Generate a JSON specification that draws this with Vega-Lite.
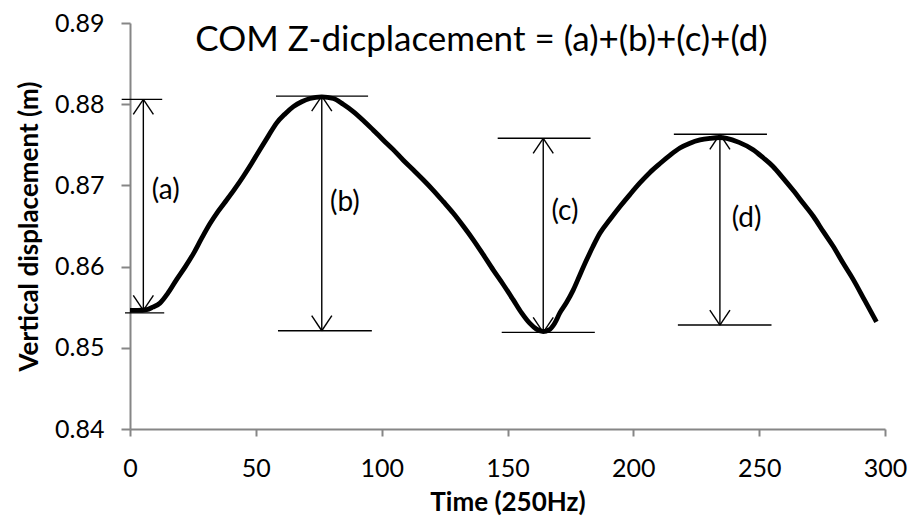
{
  "$schema": "https://vega.github.io/schema/vega-lite/v6.json",
  "width": 755,
  "height": 406,
  "autosize": "none",
  "padding": {"left": 130, "top": 23, "right": 30, "bottom": 101},
  "background": "white",
  "config": {"view": {"stroke": null}, "font": "Lato"},
  "title": {"text": "COM Z-dicplacement = (a)+(b)+(c)+(d)", "font": "Lato", "fontSize": 35, "fontWeight": "normal", "color": "black", "anchor": "middle", "dx": -26, "offset": -47},
  "datasets": {
    "curve": [
      {"t": 0, "z": 0.8546}, {"t": 3, "z": 0.8546}, {"t": 6.6, "z": 0.8547}, {"t": 9, "z": 0.855}, {"t": 11.9, "z": 0.8555},
      {"t": 15, "z": 0.8567}, {"t": 18.5, "z": 0.8584}, {"t": 22, "z": 0.86}, {"t": 25.2, "z": 0.8616}, {"t": 28.5, "z": 0.8635},
      {"t": 31.8, "z": 0.8653}, {"t": 35, "z": 0.8668}, {"t": 38.4, "z": 0.8682}, {"t": 41.7, "z": 0.8696}, {"t": 45, "z": 0.8711},
      {"t": 48.3, "z": 0.8727}, {"t": 51.6, "z": 0.8744}, {"t": 55, "z": 0.8761}, {"t": 58.3, "z": 0.8777}, {"t": 61.6, "z": 0.8788},
      {"t": 64.9, "z": 0.8797}, {"t": 68.2, "z": 0.8803}, {"t": 71.5, "z": 0.8807}, {"t": 76.2, "z": 0.8809}, {"t": 80.8, "z": 0.8807},
      {"t": 84.7, "z": 0.88}, {"t": 88.7, "z": 0.8791}, {"t": 92.7, "z": 0.878}, {"t": 96.7, "z": 0.8768}, {"t": 100.6, "z": 0.8756},
      {"t": 104.6, "z": 0.8744}, {"t": 108.6, "z": 0.8731}, {"t": 112.6, "z": 0.8719}, {"t": 116.5, "z": 0.8707}, {"t": 120.5, "z": 0.8694},
      {"t": 124.5, "z": 0.868}, {"t": 128.4, "z": 0.8666}, {"t": 132.4, "z": 0.865}, {"t": 136.4, "z": 0.8633}, {"t": 140.3, "z": 0.8615},
      {"t": 144.3, "z": 0.8596}, {"t": 148.3, "z": 0.8578}, {"t": 152.3, "z": 0.8559}, {"t": 155.6, "z": 0.8543}, {"t": 158.9, "z": 0.853},
      {"t": 161.5, "z": 0.8523}, {"t": 164.2, "z": 0.852}, {"t": 166.5, "z": 0.8522}, {"t": 168.7, "z": 0.853}, {"t": 170.8, "z": 0.8543},
      {"t": 173.5, "z": 0.8556}, {"t": 176.1, "z": 0.8571}, {"t": 178.8, "z": 0.859}, {"t": 181.4, "z": 0.8608}, {"t": 184, "z": 0.8625},
      {"t": 186.7, "z": 0.8641}, {"t": 190.7, "z": 0.8658}, {"t": 194.7, "z": 0.8674}, {"t": 198.7, "z": 0.8689}, {"t": 202.6, "z": 0.8703},
      {"t": 206.6, "z": 0.8716}, {"t": 210.6, "z": 0.8727}, {"t": 214.5, "z": 0.8737}, {"t": 218.5, "z": 0.8746}, {"t": 222.5, "z": 0.8752},
      {"t": 226.5, "z": 0.8756}, {"t": 230.5, "z": 0.8758}, {"t": 234.4, "z": 0.8759}, {"t": 237.1, "z": 0.8758}, {"t": 242, "z": 0.8753},
      {"t": 247.6, "z": 0.8744}, {"t": 251.6, "z": 0.8734}, {"t": 255.6, "z": 0.8723}, {"t": 259.5, "z": 0.8709}, {"t": 263.5, "z": 0.8694},
      {"t": 267.5, "z": 0.8678}, {"t": 271.5, "z": 0.8662}, {"t": 275.5, "z": 0.8643}, {"t": 279.4, "z": 0.8625}, {"t": 283.4, "z": 0.8604},
      {"t": 287.4, "z": 0.8584}, {"t": 292, "z": 0.8558}, {"t": 296.6, "z": 0.8532}
    ],
    "segs": [
      {"x1": 5.3, "y1": 0.8806, "x2": 5.3, "y2": 0.8546},
      {"x1": -3.3, "y1": 0.8806, "x2": 12.8, "y2": 0.8806},
      {"x1": -2.0, "y1": 0.8543, "x2": 13.6, "y2": 0.8543},
      {"x1": 1.3, "y1": 0.87875, "x2": 5.3, "y2": 0.8806},
      {"x1": 9.3, "y1": 0.87875, "x2": 5.3, "y2": 0.8806},
      {"x1": 1.3, "y1": 0.85645, "x2": 5.3, "y2": 0.8546},
      {"x1": 9.3, "y1": 0.85645, "x2": 5.3, "y2": 0.8546},
      {"x1": 76.2, "y1": 0.881, "x2": 76.2, "y2": 0.8521},
      {"x1": 58.0, "y1": 0.881, "x2": 94.6, "y2": 0.881},
      {"x1": 58.8, "y1": 0.8521, "x2": 96.1, "y2": 0.8521},
      {"x1": 72.2, "y1": 0.87915, "x2": 76.2, "y2": 0.881},
      {"x1": 80.2, "y1": 0.87915, "x2": 76.2, "y2": 0.881},
      {"x1": 72.2, "y1": 0.85395, "x2": 76.2, "y2": 0.8521},
      {"x1": 80.2, "y1": 0.85395, "x2": 76.2, "y2": 0.8521},
      {"x1": 164.2, "y1": 0.8758, "x2": 164.2, "y2": 0.8519},
      {"x1": 146.1, "y1": 0.8758, "x2": 183.0, "y2": 0.8758},
      {"x1": 147.7, "y1": 0.8519, "x2": 184.7, "y2": 0.8519},
      {"x1": 160.2, "y1": 0.87395, "x2": 164.2, "y2": 0.8758},
      {"x1": 168.2, "y1": 0.87395, "x2": 164.2, "y2": 0.8758},
      {"x1": 160.2, "y1": 0.85375, "x2": 164.2, "y2": 0.8519},
      {"x1": 168.2, "y1": 0.85375, "x2": 164.2, "y2": 0.8519},
      {"x1": 234.4, "y1": 0.8763, "x2": 234.4, "y2": 0.8528},
      {"x1": 216.1, "y1": 0.8763, "x2": 253.1, "y2": 0.8763},
      {"x1": 217.7, "y1": 0.8528, "x2": 254.9, "y2": 0.8528},
      {"x1": 230.4, "y1": 0.87445, "x2": 234.4, "y2": 0.8763},
      {"x1": 238.4, "y1": 0.87445, "x2": 234.4, "y2": 0.8763},
      {"x1": 230.4, "y1": 0.85465, "x2": 234.4, "y2": 0.8528},
      {"x1": 238.4, "y1": 0.85465, "x2": 234.4, "y2": 0.8528}
    ],
    "labels": [
      {"x": 14.2, "y": 0.86935, "label": "(a)"},
      {"x": 85.4, "y": 0.86783, "label": "(b)"},
      {"x": 172.8, "y": 0.86676, "label": "(c)"},
      {"x": 245.0, "y": 0.86586, "label": "(d)"}
    ]
  },
  "layer": [
    {
      "data": {"name": "segs"},
      "mark": {"type": "rule", "color": "black", "strokeWidth": 1.4},
      "encoding": {
        "x": {"field": "x1", "type": "quantitative", "scale": {"domain": [0, 300], "nice": false},
          "axis": {"title": "Time (250Hz)", "values": [0, 50, 100, 150, 200, 250, 300], "grid": false,
            "domainColor": "#868686", "domainWidth": 2, "tickColor": "#868686", "tickWidth": 2, "tickSize": 7,
            "labelFont": "Lato", "labelFontSize": 25, "labelColor": "black", "labelPadding": 20, "labelFlush": false,
            "titleFont": "Lato", "titleFontSize": 26, "titleFontWeight": "bold", "titleColor": "black", "titlePadding": 8}},
        "x2": {"field": "x2"},
        "y": {"field": "y1", "type": "quantitative", "scale": {"domain": [0.84, 0.89], "nice": false, "zero": false},
          "axis": {"title": "Vertical displacement (m)", "values": [0.84, 0.85, 0.86, 0.87, 0.88, 0.89], "format": ".2f", "grid": false,
            "domainColor": "#868686", "domainWidth": 2, "tickColor": "#868686", "tickWidth": 2, "tickSize": 9,
            "labelFont": "Lato", "labelFontSize": 25, "labelColor": "black", "labelPadding": 17, "labelFlush": false,
            "titleFont": "Lato", "titleFontSize": 26, "titleFontWeight": "bold", "titleColor": "black", "titlePadding": 12}},
        "y2": {"field": "y2"}
      }
    },
    {
      "data": {"name": "curve"},
      "mark": {"type": "line", "color": "black", "strokeWidth": 4.8, "interpolate": "monotone"},
      "encoding": {
        "x": {"field": "t", "type": "quantitative"},
        "y": {"field": "z", "type": "quantitative"}
      }
    },
    {
      "data": {"name": "labels"},
      "mark": {"type": "text", "font": "Lato", "fontSize": 28, "color": "black", "align": "center", "baseline": "middle"},
      "encoding": {
        "x": {"field": "x", "type": "quantitative"},
        "y": {"field": "y", "type": "quantitative"},
        "text": {"field": "label"}
      }
    }
  ]
}
